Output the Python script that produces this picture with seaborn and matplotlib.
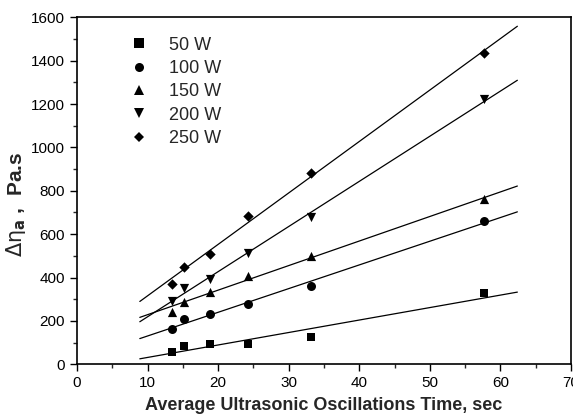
import matplotlib
matplotlib.use("Agg")
import matplotlib.pyplot as plt
from matplotlib.lines import Line2D
from matplotlib.ticker import MultipleLocator
import seaborn as sns

# ---- data ----
times = [13.4, 15.2, 18.8, 24.3, 33.1, 57.7]
w50 = [58, 86, 92, 92, 124, 327]
w100 = [163, 209, 230, 277, 362, 662]
w150 = [243, 289, 335, 407, 499, 760]
w200 = [292, 350, 393, 512, 678, 1223]
w250 = [369, 450, 508, 684, 881, 1434]
labels = ["50 W", "100 W", "150 W", "200 W", "250 W"]
markers = ["s", "o", "^", "v", "D"]
fit_range = (8.9, 62.4)
x_ticks = [0, 10, 20, 30, 40, 50, 60, 70]
y_ticks = [0, 200, 400, 600, 800, 1000, 1200, 1400, 1600]

series = [w50, w100, w150, w200, w250]

sns.set_style("ticks")
plt.rcParams["font.family"] = ["Liberation Sans", "DejaVu Sans"]
plt.rcParams["mathtext.fontset"] = "dejavusans"

fig = plt.figure(figsize=(5.73, 4.16), dpi=100)
ax = fig.add_axes([77 / 573, (416 - 364.3) / 416, 494 / 573, 347 / 416])

ax.set_xlim(*fit_range)
sizes = {"s": 36, "o": 42, "^": 44, "v": 44, "D": 28}
for vals, m in zip(series, markers):
    sns.regplot(x=times, y=vals, ax=ax, ci=None, truncate=False, marker=m,
                color="black",
                scatter_kws={"s": sizes[m], "linewidths": 0, "alpha": 1},
                line_kws={"lw": 0.9})

ax.set_xlim(0, 70)
ax.set_ylim(0, 1600)
ax.set_xticks(x_ticks)
ax.set_yticks(y_ticks)
ax.xaxis.set_minor_locator(MultipleLocator(5))
ax.yaxis.set_minor_locator(MultipleLocator(100))
ax.tick_params(axis="both", which="major", direction="out", length=5, width=1,
               labelsize=11, colors="black")
ax.tick_params(axis="both", which="minor", direction="out", length=3, width=1)
for sp in ax.spines.values():
    sp.set_visible(True)
    sp.set_linewidth(1.2)
    sp.set_color("black")

ax.set_xlabel("Average Ultrasonic Oscillations Time, sec", fontsize=13,
              fontweight="bold", labelpad=5)
ax.set_ylabel(r"$\mathrm{Δη}_{\mathbf{a}}$ ,  Pa.s", fontsize=15, fontweight="bold")
ax.yaxis.set_label_coords(-0.10, 0.46)

handles = [Line2D([], [], linestyle="none", marker=m, color="black",
                  markersize=6.5 if m != "D" else 5.5, markeredgewidth=0)
           for m in markers]
ax.legend(handles, labels, loc="upper left", bbox_to_anchor=(0.092, 0.965),
          frameon=False, fontsize=13, handlelength=1.0, handletextpad=1.2,
          labelspacing=0.35, borderaxespad=0)

fig.savefig("out.png", dpi=100)
